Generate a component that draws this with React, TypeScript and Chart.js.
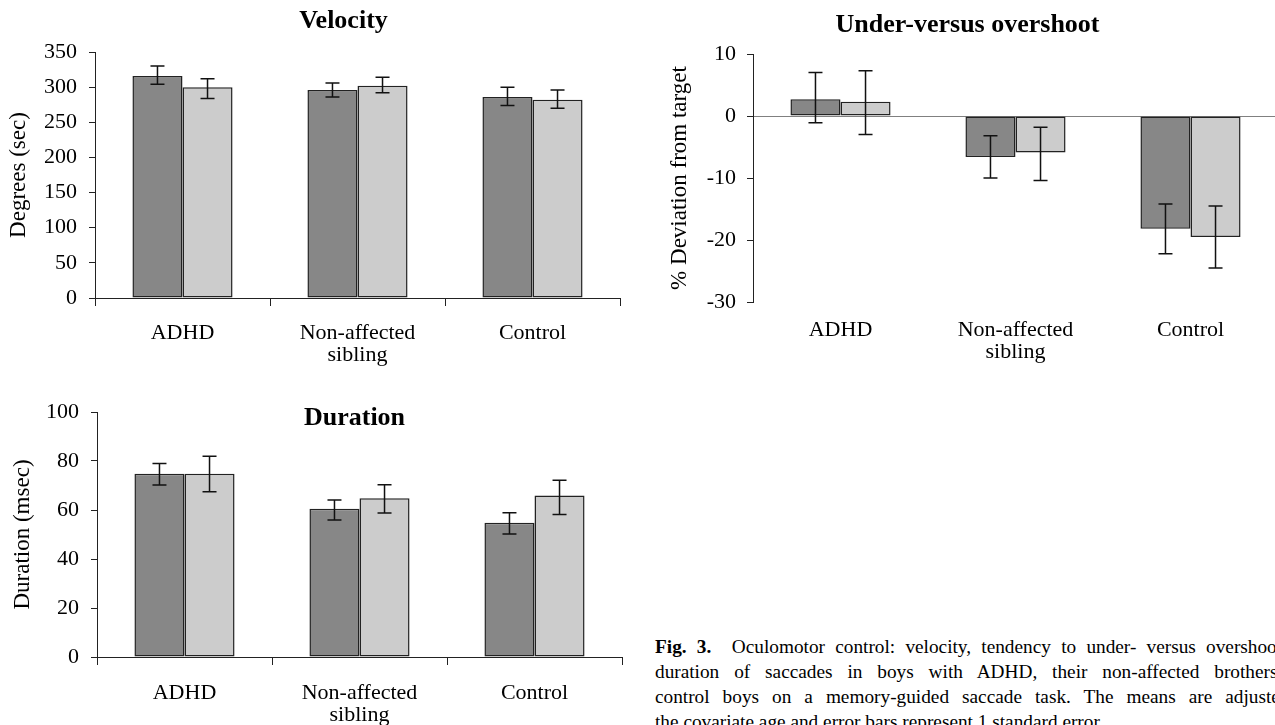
import React, { useEffect, useRef } from "react";
import { Chart, registerables } from "chart.js";

Chart.register(...registerables);

const FONT = '"Liberation Serif", "Times New Roman", serif';
Chart.defaults.font.family = FONT;
Chart.defaults.color = "#000";

// ---- data ----
const categories = [["ADHD"], ["Non-affected", "sibling"], ["Control"]];
const seriesNames = ["Series 1", "Series 2"];

const velocityRange = [0, 350, 50];
const velocityDark = [316, 296, 286];
const velocityDarkLow = [304, 286, 274];
const velocityDarkHigh = [330, 306, 300];
const velocityLight = [300, 302, 282];
const velocityLightLow = [284, 292, 270];
const velocityLightHigh = [312, 314, 296];

const shootRange = [-30, 10, 10];
const shootDark = [2.7, -6.6, -18.2];
const shootDarkLow = [-1.1, -10.0, -22.2];
const shootDarkHigh = [7.0, -3.2, -14.2];
const shootLight = [2.3, -5.9, -19.5];
const shootLightLow = [-3.0, -10.4, -24.5];
const shootLightHigh = [7.3, -1.8, -14.5];

const durationRange = [0, 100, 20];
const durationDark = [74.8, 60.5, 54.8];
const durationDarkLow = [70.2, 55.9, 50.2];
const durationDarkHigh = [79.0, 64.1, 58.9];
const durationLight = [74.8, 64.8, 65.9];
const durationLightLow = [67.5, 58.8, 58.2];
const durationLightHigh = [81.9, 70.3, 72.1];

const captionLines = [
  "Oculomotor control: velocity, tendency to under- versus overshoot, and",
  "duration of saccades in boys with ADHD, their non-affected brothers, and",
  "control boys on a memory-guided saccade task. The means are adjusted for",
  "the covariate age and error bars represent 1 standard error.",
];

const DARK = "#878787";
const LIGHT = "#cccccc";

const errorBarPlugin = {
  id: "errorBars",
  afterDatasetsDraw(chart: any) {
    const { ctx } = chart;
    const ys = chart.scales.y;
    chart.data.datasets.forEach((ds: any, di: number) => {
      const meta = chart.getDatasetMeta(di);
      meta.data.forEach((el: any, i: number) => {
        const x = el.x;
        const y1 = ys.getPixelForValue(ds.errLow[i]);
        const y2 = ys.getPixelForValue(ds.errHigh[i]);
        ctx.save();
        ctx.strokeStyle = "#111";
        ctx.lineWidth = 1.5;
        ctx.beginPath();
        ctx.moveTo(x, y1);
        ctx.lineTo(x, y2);
        ctx.moveTo(x - 7, y1);
        ctx.lineTo(x + 7, y1);
        ctx.moveTo(x - 7, y2);
        ctx.lineTo(x + 7, y2);
        ctx.stroke();
        ctx.restore();
      });
    });
  },
};

// Chart title placed relative to the chart area
const panelTitlePlugin = {
  id: "panelTitle",
  afterDraw(chart: any) {
    const o = chart.config.options.panelTitle;
    if (!o) return;
    const { ctx, chartArea } = chart;
    ctx.save();
    ctx.font = `bold 26px ${FONT}`;
    ctx.fillStyle = "#000";
    ctx.textAlign = "center";
    ctx.textBaseline = "middle";
    ctx.fillText(o.text, (chartArea.left + chartArea.right) / 2 + o.dx, chartArea.top + o.dy);
    ctx.restore();
  },
};

type Spec = {
  title: string;
  titleDx: number;
  titleDy: number;
  yTitle: string;
  range: number[];
  dark: number[];
  darkLow: number[];
  darkHigh: number[];
  light: number[];
  lightLow: number[];
  lightHigh: number[];
  left: number;
  top: number;
  width: number;
  height: number;
  yAxisWidth: number;
  xAxisHeight: number;
  padTop: number;
  padRight: number;
  yTitlePad: number;
  yTickPad: number;
  xTickPad: number;
  xTicks: boolean;
  zeroLine: boolean;
};

function BarPanel({ s }: { s: Spec }) {
  const ref = useRef<HTMLCanvasElement | null>(null);
  useEffect(() => {
    if (!ref.current) return;
    const mk = (label: string, data: number[], lo: number[], hi: number[], color: string) =>
      ({
        label,
        data,
        errLow: lo,
        errHigh: hi,
        backgroundColor: color,
        borderColor: "#222",
        borderWidth: 1.5,
        borderSkipped: false,
        categoryPercentage: 0.572,
        barPercentage: 1,
      } as any);
    const chart = new Chart(ref.current, {
      type: "bar",
      data: {
        labels: categories,
        datasets: [
          mk(seriesNames[0], s.dark, s.darkLow, s.darkHigh, DARK),
          mk(seriesNames[1], s.light, s.lightLow, s.lightHigh, LIGHT),
        ],
      },
      options: {
        animation: false,
        responsive: false,
        devicePixelRatio: 1,
        panelTitle: { text: s.title, dx: s.titleDx, dy: s.titleDy },
        layout: { padding: { top: s.padTop, right: s.padRight, left: 0, bottom: 0 } },
        plugins: {
          legend: { display: false },
          tooltip: { enabled: false },
          title: { display: false },
        },
        scales: {
          x: {
            offset: true,
            grid: {
              display: s.xTicks,
              offset: true,
              drawOnChartArea: false,
              drawTicks: s.xTicks,
              tickLength: s.xTicks ? 8 : 0,
              tickColor: "#222",
              color: "#222",
            },
            border: { display: s.xTicks, color: "#222", width: 1 },
            ticks: {
              color: "#000",
              font: { family: FONT, size: 22, lineHeight: 1.0 },
              padding: s.xTickPad,
              maxRotation: 0,
              autoSkip: false,
            },
            afterFit: (sc: any) => {
              sc.height = s.xAxisHeight;
            },
          },
          y: {
            min: s.range[0],
            max: s.range[1],
            ticks: {
              stepSize: s.range[2],
              color: "#000",
              font: { family: FONT, size: 22 },
              padding: s.yTickPad,
            },
            grid: {
              display: true,
              drawOnChartArea: s.zeroLine,
              drawTicks: true,
              tickLength: 6,
              tickColor: "#222",
              lineWidth: 1,
              color: (c: any) =>
                s.zeroLine && c.tick && c.tick.value === 0 ? "#808080" : "rgba(0,0,0,0)",
            },
            border: { display: true, color: "#222", width: 1 },
            title: {
              display: true,
              text: s.yTitle,
              color: "#000",
              font: { family: FONT, size: 23, lineHeight: 1.2 },
              padding: { top: s.yTitlePad, bottom: 0 },
            },
            afterFit: (sc: any) => {
              sc.width = s.yAxisWidth;
            },
          },
        },
      } as any,
      plugins: [errorBarPlugin, panelTitlePlugin],
    });
    return () => chart.destroy();
  }, []);
  return (
    <canvas
      ref={ref}
      width={s.width}
      height={s.height}
      style={{ position: "absolute", left: s.left, top: s.top, width: s.width, height: s.height }}
    />
  );
}

const velocitySpec: Spec = {
  title: "Velocity",
  titleDx: -14,
  titleDy: -31,
  yTitle: "Degrees (sec)",
  range: velocityRange,
  dark: velocityDark,
  darkLow: velocityDarkLow,
  darkHigh: velocityDarkHigh,
  light: velocityLight,
  lightLow: velocityLightLow,
  lightHigh: velocityLightHigh,
  left: 0,
  top: 0,
  width: 640,
  height: 370,
  yAxisWidth: 95,
  xAxisHeight: 72,
  padTop: 52,
  padRight: 20,
  yTitlePad: 5,
  yTickPad: 12,
  xTickPad: 16,
  xTicks: true,
  zeroLine: false,
};

const shootSpec: Spec = {
  title: "Under-versus overshoot",
  titleDx: -48,
  titleDy: -29,
  yTitle: "% Deviation from target",
  range: shootRange,
  dark: shootDark,
  darkLow: shootDarkLow,
  darkHigh: shootDarkHigh,
  light: shootLight,
  lightLow: shootLightLow,
  lightHigh: shootLightHigh,
  left: 650,
  top: 0,
  width: 640,
  height: 370,
  yAxisWidth: 103,
  xAxisHeight: 68,
  padTop: 54,
  padRight: 12,
  yTitlePad: 16,
  yTickPad: 11,
  xTickPad: 17,
  xTicks: false,
  zeroLine: true,
};

const durationSpec: Spec = {
  title: "Duration",
  titleDx: -5,
  titleDy: 6,
  yTitle: "Duration (msec)",
  range: durationRange,
  dark: durationDark,
  darkLow: durationDarkLow,
  darkHigh: durationDarkHigh,
  light: durationLight,
  lightLow: durationLightLow,
  lightHigh: durationLightHigh,
  left: 0,
  top: 380,
  width: 640,
  height: 345,
  yAxisWidth: 97,
  xAxisHeight: 68,
  padTop: 32,
  padRight: 18,
  yTitlePad: 9,
  yTickPad: 12,
  xTickPad: 17,
  xTicks: true,
  zeroLine: false,
};

export default function App() {
  return (
    <div
      style={{
        position: "fixed",
        left: 0,
        top: 0,
        width: 1275,
        height: 725,
        overflow: "hidden",
        background: "#fff",
      }}
    >
      <BarPanel s={velocitySpec} />
      <BarPanel s={shootSpec} />
      <BarPanel s={durationSpec} />
      <div
        style={{
          position: "absolute",
          left: 655,
          top: 634,
          width: 670,
          fontFamily: FONT,
          fontSize: 19.3,
          lineHeight: "25px",
          color: "#000",
        }}
      >
        {captionLines.map((line, i) => (
          <div
            key={i}
            style={{
              textAlign: "justify",
              textAlignLast: i < captionLines.length - 1 ? "justify" : "left",
            }}
          >
            {i === 0 ? (
              <>
                <b>Fig. 3.</b>
                {"\u00a0 "}
                {line}
              </>
            ) : (
              line
            )}
          </div>
        ))}
      </div>
    </div>
  );
}
